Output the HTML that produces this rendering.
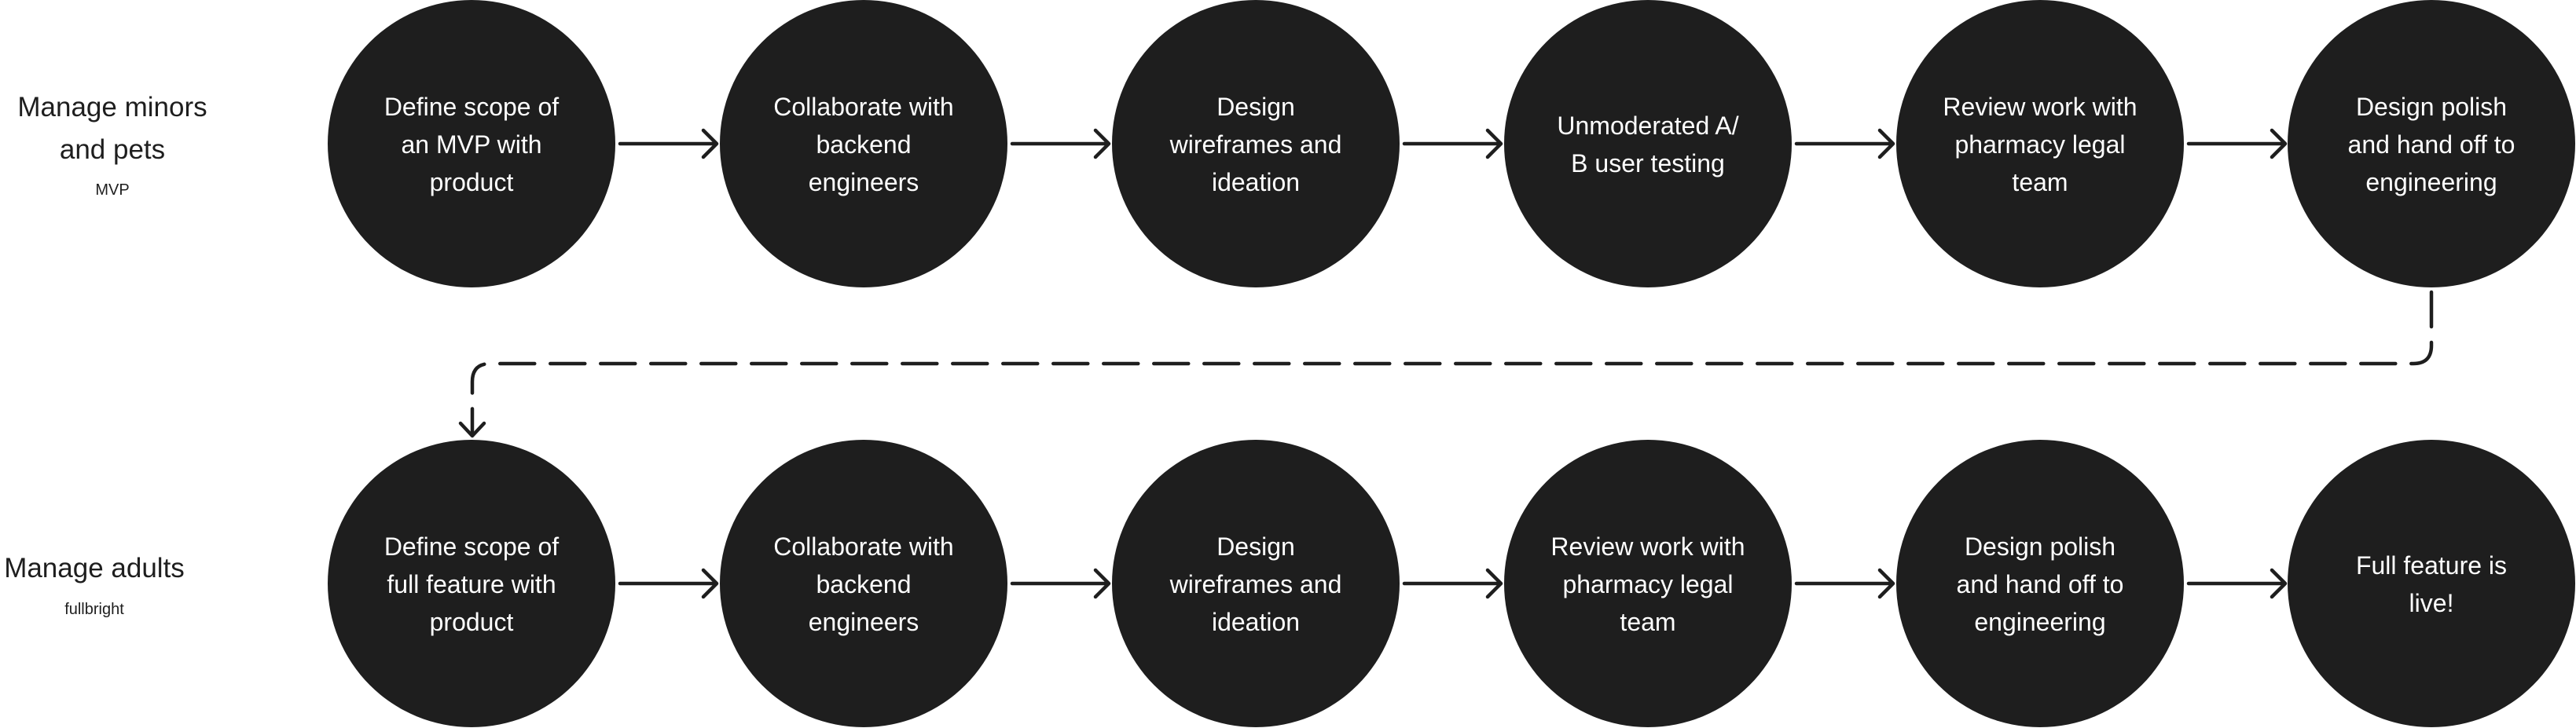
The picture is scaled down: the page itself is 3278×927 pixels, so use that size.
<!DOCTYPE html>
<html><head><style>
body{margin:0;background:#fff;width:3278px;height:927px;overflow:hidden}
svg{display:block}
text{font-family:"Liberation Sans",sans-serif}
</style></head><body>
<svg width="3278" height="927" viewBox="0 0 3278 927">
<defs>
<marker id="a" markerWidth="12" markerHeight="12" refX="10" refY="6" orient="auto" markerUnits="userSpaceOnUse" viewBox="0 0 12 12"></marker>
</defs>
<g fill="#1e1e1e">
<circle cx="600" cy="183" r="183"/><circle cx="1099" cy="183" r="183"/><circle cx="1598" cy="183" r="183"/><circle cx="2097" cy="183" r="183"/><circle cx="2596" cy="183" r="183"/><circle cx="3094" cy="183" r="183"/>
<circle cx="600" cy="743" r="183"/><circle cx="1099" cy="743" r="183"/><circle cx="1598" cy="743" r="183"/><circle cx="2097" cy="743" r="183"/><circle cx="2596" cy="743" r="183"/><circle cx="3094" cy="743" r="183"/>
</g>
<g stroke="#1e1e1e" stroke-width="4.5" fill="none" stroke-linecap="round" stroke-linejoin="round">
<path d="M789 183H911M895 166L912 183L895 200"/>
<path d="M1288 183H1410M1394 166L1411 183L1394 200"/>
<path d="M1787 183H1909M1893 166L1910 183L1893 200"/>
<path d="M2286 183H2408M2392 166L2409 183L2392 200"/>
<path d="M2785 183H2907M2891 166L2908 183L2891 200"/>
<path d="M789 743H911M895 726L912 743L895 760"/>
<path d="M1288 743H1410M1394 726L1411 743L1394 760"/>
<path d="M1787 743H1909M1893 726L1910 743L1893 760"/>
<path d="M2286 743H2408M2392 726L2409 743L2392 760"/>
<path d="M2785 743H2907M2891 726L2908 743L2891 760"/>
<path d="M3094 372V440Q3094 463 3071 463H624Q601 463 601 486V552" stroke-dasharray="44 20"/>
<path d="M586 539L601 555L616 539"/>
</g>
<g font-size="32" fill="#fff" text-anchor="middle">
<text x="600" y="147">Define scope of</text><text x="600" y="195">an MVP with</text><text x="600" y="243">product</text>
<text x="1099" y="147">Collaborate with</text><text x="1099" y="195">backend</text><text x="1099" y="243">engineers</text>
<text x="1598" y="147">Design</text><text x="1598" y="195">wireframes and</text><text x="1598" y="243">ideation</text>
<text x="2097" y="171">Unmoderated A/</text><text x="2097" y="219">B user testing</text>
<text x="2596" y="147">Review work with</text><text x="2596" y="195">pharmacy legal</text><text x="2596" y="243">team</text>
<text x="3094" y="147">Design polish</text><text x="3094" y="195">and hand off to</text><text x="3094" y="243">engineering</text>
<text x="600" y="707">Define scope of</text><text x="600" y="755">full feature with</text><text x="600" y="803">product</text>
<text x="1099" y="707">Collaborate with</text><text x="1099" y="755">backend</text><text x="1099" y="803">engineers</text>
<text x="1598" y="707">Design</text><text x="1598" y="755">wireframes and</text><text x="1598" y="803">ideation</text>
<text x="2097" y="707">Review work with</text><text x="2097" y="755">pharmacy legal</text><text x="2097" y="803">team</text>
<text x="2596" y="707">Design polish</text><text x="2596" y="755">and hand off to</text><text x="2596" y="803">engineering</text>
<text x="3094" y="731">Full feature is</text><text x="3094" y="779">live!</text>
</g>
<g fill="#1e1e1e" text-anchor="middle">
<text x="143" y="148" font-size="35">Manage minors</text>
<text x="143" y="202" font-size="35">and pets</text>
<text x="143" y="248" font-size="20">MVP</text>
<text x="120" y="735" font-size="35">Manage adults</text>
<text x="120" y="782" font-size="20">fullbright</text>
</g>
</svg>
</body></html>
